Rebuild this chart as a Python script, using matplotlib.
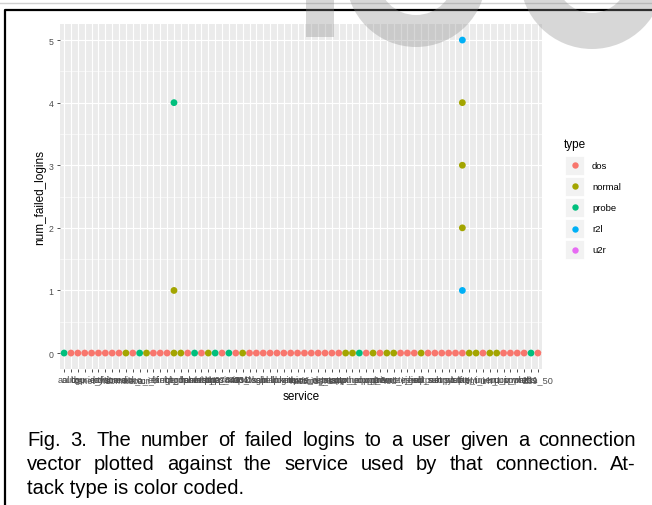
import matplotlib
matplotlib.use("Agg")
import matplotlib.pyplot as plt
from matplotlib.patches import Rectangle, Wedge
import numpy as np

plt.rcParams["font.family"] = ["Liberation Sans", "DejaVu Sans"]

# ---- data ----
services = ["aol", "auth", "bgp", "courier", "csnet_ns", "ctf", "daytime", "discard",
            "domain", "domain_u", "echo", "eco_i", "ecr_i", "efs", "exec", "finger",
            "ftp", "ftp_data", "gopher", "harvest", "hostnames", "http", "http_2784",
            "http_443", "http_8001", "imap4", "IRC", "iso_tsap", "klogin", "kshell",
            "ldap", "link", "login", "mtp", "name", "netbios_dgm", "netbios_ns",
            "netbios_ssn", "netstat", "nnsp", "nntp", "ntp_u", "other", "pm_dump",
            "pop_2", "pop_3", "printer", "private", "red_i", "remote_job", "rje",
            "shell", "smtp", "sql_net", "ssh", "sunrpc", "supdup", "systat", "telnet",
            "tftp_u", "tim_i", "time", "urh_i", "urp_i", "uucp", "uucp_path", "vmnet",
            "whois", "X11", "Z39_50"]

# type of the visible (top-most) point at num_failed_logins == 0
base_type = (["probe"] + ["dos"] * 8 + ["normal", "dos", "probe", "normal"]
             + ["dos"] * 3 + ["normal", "normal", "dos", "probe", "dos", "normal",
                              "probe", "dos", "probe", "dos", "normal"]
             + ["dos"] * 14 + ["normal", "normal", "probe", "dos", "normal", "dos",
                               "normal", "normal"]
             + ["dos"] * 3 + ["normal"] + ["dos"] * 6
             + ["normal", "normal", "dos", "normal", "normal"]
             + ["dos"] * 4 + ["probe", "dos"])

extra_service = ["ftp", "ftp", "telnet", "telnet", "telnet", "telnet", "telnet"]
extra_type = ["probe", "normal", "r2l", "normal", "normal", "normal", "r2l"]
extra_logins = [4, 1, 5, 4, 3, 2, 1]

types = ["dos", "normal", "probe", "r2l", "u2r"]
type_colors = ["#F8766D", "#A3A500", "#00BF7D", "#00B0F6", "#E76BF3"]
cmap = dict(zip(types, type_colors))

W, H = 652, 506
fig = plt.figure(figsize=(W / 100, H / 100), dpi=100)

# panel in pixel coords
pl, pr, pt, pb = 60, 542, 25.4, 369.7
ax = fig.add_axes([pl / W, 1 - pb / H, (pr - pl) / W, (pb - pt) / H])
ax.set_facecolor("#EBEBEB")
n = len(services)
ax.set_xlim(-0.6, n - 1 + 0.6)
ax.set_ylim(-0.25, 5.25)
ax.set_xticks(np.arange(n))
ax.set_xticklabels(services, fontsize=6.6, color="#4D4D4D")
ax.set_yticks(np.arange(6))
ax.set_yticks(np.arange(0.5, 5.0, 1.0), minor=True)
ax.tick_params(axis="y", labelsize=6.3, labelcolor="#4D4D4D", color="#333333",
               length=2.5, width=0.6, pad=2)
ax.tick_params(axis="y", which="minor", length=0)
ax.tick_params(axis="x", color="#333333", length=2.5, width=0.6, pad=2)
for s in ax.spines.values():
    s.set_visible(False)
ax.grid(True, which="major", color="white", lw=0.8)
ax.grid(True, which="minor", axis="y", color="white", lw=0.4)
ax.set_axisbelow(True)

idx = {s: i for i, s in enumerate(services)}
ax.scatter(np.arange(n), np.zeros(n), s=24, c=[cmap[t] for t in base_type],
           linewidths=0, zorder=3)
ax.scatter([idx[s] for s in extra_service], extra_logins, s=24,
           c=[cmap[t] for t in extra_type], linewidths=0, zorder=3)

ax.set_xlabel("service", fontsize=8.5, labelpad=4)
ax.set_ylabel("num_failed_logins", fontsize=8.5, labelpad=2)

# overlay in pixel coords for legend, frame, watermark and caption
ov = fig.add_axes([0, 0, 1, 1], facecolor="none")
ov.set_xlim(0, W)
ov.set_ylim(H, 0)
ov.axis("off")

# legend
ov.text(564, 145, "type", fontsize=8.5, va="center", ha="left")
for k, (t, c) in enumerate(zip(types, type_colors)):
    yc = 166 + k * 21.2
    ov.add_patch(Rectangle((565, yc - 9.5), 19, 19, facecolor="#F2F2F2",
                           edgecolor="white", lw=0.6))
    ov.plot(574.5, yc, "o", ms=4.6, color=c, mec="none")
    ov.text(592, yc, t, fontsize=6.8, va="center", ha="left")

# frame
ov.plot([0, W], [4, 4], color="#D0D0D0", lw=1)
ov.plot([5, 5, W], [H, 11, 11], color="black", lw=1.6)

# watermark
wm = dict(facecolor="#8C8C8C", edgecolor="none", alpha=0.34, zorder=10)
ov.add_patch(Rectangle((306, 0), 28, 38, **wm))
ov.add_patch(Wedge((416, -22), 70, 0, 360, width=32, **wm))
ov.add_patch(Wedge((592, -22), 72, 0, 360, width=36, **wm))

# caption, justified
cap_lines = ["Fig. 3. The number of failed logins to a user given a connection",
             "vector plotted against the service used by that connection. At-",
             "tack type is color coded."]
cap_x0, cap_x1 = 27, 636
cap_y = [441, 465, 489]
cap_fs = 14.5
fig.canvas.draw()
rend = fig.canvas.get_renderer()
for li, (line, yy) in enumerate(zip(cap_lines, cap_y)):
    words = line.split(" ")
    if li == len(cap_lines) - 1:
        ov.text(cap_x0, yy, line, fontsize=cap_fs, va="center", ha="left")
        continue
    widths = []
    for w in words:
        t = ov.text(0, 0, w, fontsize=cap_fs)
        widths.append(t.get_window_extent(rend).width)
        t.remove()
    gap = (cap_x1 - cap_x0 - sum(widths)) / (len(words) - 1)
    x = cap_x0
    for w, wd in zip(words, widths):
        ov.text(x, yy, w, fontsize=cap_fs, va="center", ha="left")
        x += wd + gap

fig.savefig("out.png", dpi=100)
